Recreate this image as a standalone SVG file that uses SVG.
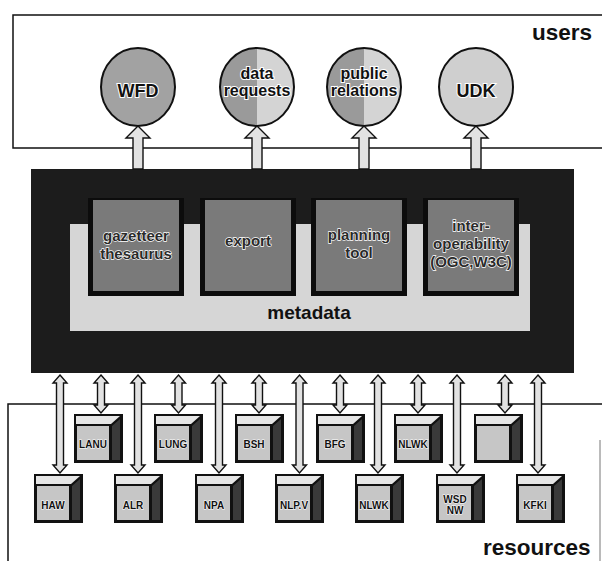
<svg xmlns="http://www.w3.org/2000/svg" xmlns:xlink="http://www.w3.org/1999/xlink" width="602" height="561" viewBox="0 0 602 561">
<style>
.frame{fill:none;stroke:#111;stroke-width:1.5}
.lbl{font-family:"Liberation Sans",Arial,sans-serif;font-weight:bold;fill:#111}
.big{font-size:22.5px}
.circ{stroke:#111;stroke-width:2}
.ctext{font-family:"Liberation Sans",Arial,sans-serif;font-weight:bold;fill:#111;stroke:#fff;stroke-width:2;paint-order:stroke;text-anchor:middle}
.itext{font-family:"Liberation Sans",Arial,sans-serif;font-weight:bold;font-size:15px;fill:#2a2a2a;stroke:#fff;stroke-width:1.3;paint-order:stroke;text-anchor:middle}
.ibox{fill:#0c0c0c}
.ifill{fill:#7a7a7a}
.arrow{fill:#e2e2e2;stroke:#111;stroke-width:1.4;stroke-linejoin:miter}
.clabel{font-family:"Liberation Sans",Arial,sans-serif;font-weight:bold;font-size:10px;fill:#111;stroke:#fff;stroke-width:1;paint-order:stroke;text-anchor:middle}
</style>
<defs>
<linearGradient id="halfL" x1="0" x2="1" y1="0" y2="0">
<stop offset="0" stop-color="#9a9a9a"/><stop offset="0.5" stop-color="#9a9a9a"/><stop offset="0.5" stop-color="#d4d4d4"/><stop offset="1" stop-color="#d4d4d4"/>
</linearGradient>
<g id="cube">
<rect x="0" y="0" width="49" height="49" fill="#111"/>
<polygon points="2,2 46,2 37,10 2,10" fill="#e6e6e6"/>
<rect x="3" y="12" width="32" height="34" fill="#c6c6c6"/>
<polygon points="38,12 46,5 46,46 38,46" fill="#3a3a3a"/>
</g>
</defs>

<!-- frames -->
<g id="users">
<path class="frame" d="M602,15 H13 V148 H602"/>
<text class="lbl big" x="532" y="40">users</text>
</g>
<g id="resources">
<path class="frame" d="M602,404 H8 V561"/>
<path d="M600,440 V561" fill="none" stroke="#777" stroke-width="1"/>
<text class="lbl big" x="483" y="555">resources</text>
</g>

<!-- user circles -->
<g id="wfd">
<ellipse class="circ" cx="138" cy="87" rx="37" ry="39" fill="#a2a2a2"/>
<text class="ctext" x="138" y="97" font-size="18">WFD</text>
</g>
<g id="data-requests">
<ellipse class="circ" cx="257" cy="87" rx="37" ry="39" fill="url(#halfL)"/>
<text class="ctext" x="257" y="79" font-size="16">data</text>
<text class="ctext" x="257" y="96" font-size="16">requests</text>
</g>
<g id="public-relations">
<ellipse class="circ" cx="364" cy="87" rx="37" ry="39" fill="url(#halfL)"/>
<text class="ctext" x="364" y="79" font-size="16">public</text>
<text class="ctext" x="364" y="96" font-size="16">relations</text>
</g>
<g id="udk">
<ellipse class="circ" cx="476" cy="87" rx="37" ry="39" fill="#cfcfcf"/>
<text class="ctext" x="476" y="97" font-size="18">UDK</text>
</g>

<!-- central system -->
<g id="system">
<rect x="31" y="169" width="543" height="204" fill="#1c1c1c"/>
<rect x="70" y="224" width="460" height="107" fill="#d6d6d6"/>
<text class="lbl" x="309" y="319" font-size="19" text-anchor="middle">metadata</text>
</g>
<g id="gazetteer">
<rect class="ibox" x="88" y="198" width="96" height="98"/>
<rect class="ifill" x="93" y="200" width="86" height="91"/>
<text class="itext" x="136" y="241">gazetteer</text>
<text class="itext" x="136" y="259">thesaurus</text>
</g>
<g id="export">
<rect class="ibox" x="200" y="198" width="96" height="98"/>
<rect class="ifill" x="205" y="200" width="86" height="91"/>
<text class="itext" x="248" y="246">export</text>
</g>
<g id="planning">
<rect class="ibox" x="311" y="198" width="96" height="98"/>
<rect class="ifill" x="316" y="200" width="86" height="91"/>
<text class="itext" x="359" y="240">planning</text>
<text class="itext" x="359" y="258">tool</text>
</g>
<g id="interop">
<rect class="ibox" x="423" y="198" width="96" height="98"/>
<rect class="ifill" x="428" y="200" width="86" height="91"/>
<text class="itext" x="471" y="231">inter-</text>
<text class="itext" x="471" y="249">operability</text>
<text class="itext" x="471" y="267">(OGC,W3C)</text>
</g>

<!-- resource cubes -->
<g id="lanu"><use xlink:href="#cube" x="74" y="414"/><text class="clabel" x="93" y="448">LANU</text></g>
<g id="lung"><use xlink:href="#cube" x="154" y="414"/><text class="clabel" x="173" y="448">LUNG</text></g>
<g id="bsh"><use xlink:href="#cube" x="235" y="414"/><text class="clabel" x="254" y="448">BSH</text></g>
<g id="bfg"><use xlink:href="#cube" x="316" y="414"/><text class="clabel" x="335" y="448">BFG</text></g>
<g id="nlwk1"><use xlink:href="#cube" x="394" y="414"/><text class="clabel" x="413" y="448">NLWK</text></g>
<g id="blank"><use xlink:href="#cube" x="474" y="414"/></g>
<g id="haw"><use xlink:href="#cube" x="34" y="474"/><text class="clabel" x="53" y="509">HAW</text></g>
<g id="alr"><use xlink:href="#cube" x="114" y="474"/><text class="clabel" x="133" y="509">ALR</text></g>
<g id="npa"><use xlink:href="#cube" x="195" y="474"/><text class="clabel" x="214" y="509">NPA</text></g>
<g id="nlpv"><use xlink:href="#cube" x="275" y="474"/><text class="clabel" x="294" y="509">NLP.V</text></g>
<g id="nlwk2"><use xlink:href="#cube" x="355" y="474"/><text class="clabel" x="374" y="509">NLWK</text></g>
<g id="wsdnw"><use xlink:href="#cube" x="436" y="474"/><text class="clabel" x="455" y="503">WSD</text><text class="clabel" x="455" y="514">NW</text></g>
<g id="kfki"><use xlink:href="#cube" x="516" y="474"/><text class="clabel" x="535" y="509">KFKI</text></g>

<!-- connectors -->
<g id="connectors">
<polygon class="arrow" points="138,126 150,138 143,138 143,169 133,169 133,138 126,138"/>
<polygon class="arrow" points="257,126 269,138 262,138 262,169 252,169 252,138 245,138"/>
<polygon class="arrow" points="364,126 376,138 369,138 369,169 359,169 359,138 352,138"/>
<polygon class="arrow" points="476,126 488,138 481,138 481,169 471,169 471,138 464,138"/>

<polygon class="arrow" points="60,375 67,383 63.5,383 63.5,465 67,465 60,473 53,465 56.5,465 56.5,383 53,383"/>
<polygon class="arrow" points="101,375 108,383 104.5,383 104.5,405 108,405 101,413 94,405 97.5,405 97.5,383 94,383"/>
<polygon class="arrow" points="138,375 145,383 141.5,383 141.5,465 145,465 138,473 131,465 134.5,465 134.5,383 131,383"/>
<polygon class="arrow" points="178.5,375 185.5,383 182,383 182,405 185.5,405 178.5,413 171.5,405 175,405 175,383 171.5,383"/>
<polygon class="arrow" points="219,375 226,383 222.5,383 222.5,465 226,465 219,473 212,465 215.5,465 215.5,383 212,383"/>
<polygon class="arrow" points="259,375 266,383 262.5,383 262.5,405 266,405 259,413 252,405 255.5,405 255.5,383 252,383"/>
<polygon class="arrow" points="299.5,375 306.5,383 303,383 303,465 306.5,465 299.5,473 292.5,465 296,465 296,383 292.5,383"/>
<polygon class="arrow" points="340,375 347,383 343.5,383 343.5,405 347,405 340,413 333,405 336.5,405 336.5,383 333,383"/>
<polygon class="arrow" points="378,375 385,383 381.5,383 381.5,465 385,465 378,473 371,465 374.5,465 374.5,383 371,383"/>
<polygon class="arrow" points="418,375 425,383 421.5,383 421.5,405 425,405 418,413 411,405 414.5,405 414.5,383 411,383"/>
<polygon class="arrow" points="457,375 464,383 460.5,383 460.5,465 464,465 457,473 450,465 453.5,465 453.5,383 450,383"/>
<polygon class="arrow" points="505,375 512,383 508.5,383 508.5,405 512,405 505,413 498,405 501.5,405 501.5,383 498,383"/>
<polygon class="arrow" points="538,375 545,383 541.5,383 541.5,465 545,465 538,473 531,465 534.5,465 534.5,383 531,383"/>
</g>
</svg>
